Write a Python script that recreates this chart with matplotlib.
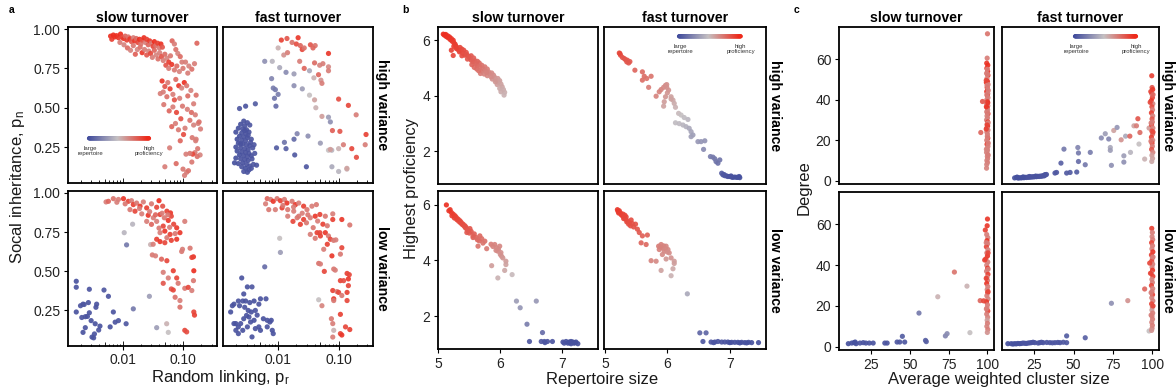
import numpy as np
import matplotlib
matplotlib.use("Agg")
import matplotlib.pyplot as plt
from matplotlib.colors import LinearSegmentedColormap
from matplotlib.ticker import FixedLocator, NullLocator

plt.rcParams['font.family'] = ['Liberation Sans', 'DejaVu Sans']

# ---------------------------------------------------------------- data
# each point: (x, y, colour score 0 = large repertoire ... 1 = high proficiency)

# a) random linking vs social inheritance
a_slow_high = [
    (0.0063,0.955,0.97),(0.0066,0.935,0.93),(0.0070,0.962,0.99),(0.0074,0.950,0.97),(0.0079,0.958,0.98),
    (0.0085,0.945,0.95),(0.0092,0.968,0.99),(0.0097,0.948,0.90),(0.0104,0.940,0.96),(0.0110,0.955,0.80),
    (0.0117,0.930,0.92),(0.0124,0.950,0.75),(0.0132,0.938,0.95),(0.0140,0.920,0.85),(0.0150,0.945,0.72),
    (0.0158,0.925,0.95),(0.0168,0.940,0.78),(0.0178,0.915,0.90),(0.0190,0.935,0.98),(0.0200,0.905,0.75),
    (0.0212,0.930,0.88),(0.0225,0.945,0.97),(0.0238,0.915,0.72),(0.0250,0.935,0.92),(0.0265,0.900,0.80),
    (0.0280,0.925,0.95),(0.0300,0.910,0.74),(0.0318,0.890,0.90),(0.0335,0.920,0.99),(0.0355,0.895,0.76),
    (0.0380,0.910,0.92),(0.0405,0.880,0.73),(0.0430,0.905,0.97),(0.0455,0.885,0.85),
    (0.0090,0.915,0.72),(0.0105,0.900,0.70),(0.0120,0.880,0.78),(0.0135,0.865,0.70),(0.0150,0.895,0.74),
    (0.0162,0.840,0.82),(0.0175,0.870,0.70),(0.0195,0.885,0.76),(0.0210,0.850,0.95),(0.0230,0.870,0.72),
    (0.0250,0.835,0.84),(0.0270,0.860,0.70),(0.0290,0.845,0.90),(0.0310,0.820,0.72),(0.0335,0.865,0.80),
    (0.0360,0.835,0.70),(0.0385,0.810,0.76),(0.0410,0.850,0.71),(0.0440,0.825,0.86),(0.0470,0.800,0.72),
    (0.0500,0.840,0.78),(0.0540,0.815,0.70),(0.0580,0.790,0.93),(0.0620,0.830,0.74),(0.0660,0.925,0.80),
    (0.0720,0.905,0.72),(0.0760,0.870,0.76),(0.0820,0.845,0.70),(0.0900,0.825,0.78),(0.0960,0.790,0.72),
    (0.0520,0.770,0.86),(0.0580,0.750,0.72),(0.0650,0.775,0.95),(0.0720,0.740,0.74),(0.0790,0.765,0.78),
    (0.0870,0.730,0.70),(0.1000,0.750,0.74),(0.1100,0.790,0.72),(0.1250,0.765,0.70),(0.1400,0.745,0.76),
    (0.1550,0.780,0.72),(0.1700,0.910,0.80),(0.1200,0.720,0.72),
    (0.0450,0.670,0.95),(0.0500,0.635,0.85),(0.0470,0.600,0.72),(0.0560,0.660,0.74),(0.0610,0.620,0.92),
    (0.0680,0.585,0.72),(0.0760,0.680,0.78),(0.0850,0.640,0.95),(0.0950,0.625,0.70),(0.1050,0.660,0.97),
    (0.1150,0.640,0.74),(0.0420,0.590,0.72),(0.0540,0.570,0.76),(0.0720,0.550,0.86),(0.0880,0.560,0.72),
    (0.1200,0.575,0.78),(0.1350,0.610,0.70),(0.1500,0.525,0.72),(0.1650,0.580,0.76),(0.0480,0.520,0.74),
    (0.0590,0.480,0.80),(0.0680,0.505,0.72),(0.0780,0.470,0.90),(0.0980,0.510,0.74),(0.1180,0.490,0.72),
    (0.1380,0.470,0.78),(0.1600,0.455,0.72),(0.1780,0.400,0.70),(0.1300,0.420,0.76),(0.0920,0.430,0.86),
    (0.0750,0.400,0.72),(0.0650,0.380,0.80),(0.0840,0.360,0.74),(0.1080,0.370,0.72),(0.1500,0.390,0.70),
    (0.1850,0.410,0.76),(0.1950,0.365,0.72),(0.1020,0.330,0.88),(0.1420,0.310,0.74),(0.1650,0.300,0.72),
    (0.0900,0.290,0.80),(0.1750,0.240,0.74),(0.1580,0.215,0.72),(0.1450,0.205,0.90),(0.1300,0.210,0.74),
    (0.1120,0.205,0.72),(0.1920,0.200,0.70),(0.1720,0.190,0.76),(0.1620,0.290,0.72),(0.0600,0.245,0.72),
    (0.0770,0.145,0.78),(0.0500,0.125,0.72),(0.1000,0.110,0.74),(0.1150,0.090,0.72),(0.1230,0.100,0.76),
    (0.1060,0.070,0.72),(0.1400,0.155,0.74),
]

a_fast_high = [
    (0.0027,0.415,0.04),(0.0031,0.405,0.05),(0.0024,0.395,0.03),(0.0028,0.385,0.04),(0.0034,0.390,0.06),
    (0.0022,0.370,0.03),(0.0026,0.365,0.05),(0.0030,0.360,0.04),(0.0020,0.345,0.03),(0.0025,0.340,0.04),
    (0.0029,0.335,0.05),(0.0033,0.345,0.04),(0.0023,0.320,0.03),(0.0027,0.315,0.05),(0.0031,0.310,0.04),
    (0.0021,0.300,0.03),(0.0025,0.295,0.04),(0.0029,0.290,0.05),(0.0036,0.300,0.06),(0.0022,0.275,0.03),
    (0.0026,0.270,0.04),(0.0030,0.265,0.05),(0.0034,0.260,0.04),(0.0040,0.265,0.06),(0.0020,0.250,0.03),
    (0.0024,0.245,0.04),(0.0028,0.240,0.05),(0.0032,0.235,0.04),(0.0038,0.245,0.05),(0.0021,0.225,0.03),
    (0.0025,0.220,0.04),(0.0029,0.215,0.04),(0.0033,0.210,0.05),(0.0023,0.200,0.03),(0.0027,0.195,0.04),
    (0.0031,0.190,0.05),(0.0036,0.195,0.04),(0.0041,0.210,0.06),(0.0020,0.180,0.03),(0.0024,0.175,0.04),
    (0.0028,0.170,0.05),(0.0032,0.165,0.04),(0.0037,0.175,0.05),(0.0019,0.150,0.03),(0.0022,0.145,0.04),
    (0.0026,0.150,0.04),(0.0030,0.140,0.05),(0.0034,0.130,0.04),(0.0039,0.140,0.06),(0.0044,0.135,0.05),
    (0.0025,0.125,0.04),(0.0029,0.115,0.03),(0.0033,0.105,0.04),(0.0027,0.095,0.05),(0.0031,0.090,0.04),
    (0.0036,0.115,0.05),(0.0024,0.270,0.04),(0.0035,0.280,0.05),(0.0028,0.355,0.04),(0.0032,0.325,0.05),
    (0.0042,0.525,0.08),(0.0023,0.495,0.06),(0.0029,0.510,0.05),(0.0094,0.245,0.08),(0.0135,0.240,0.10),
    (0.0127,0.280,0.18),(0.0188,0.200,0.07),(0.0183,0.300,0.14),(0.0206,0.335,0.25),(0.0293,0.125,0.06),
    (0.0312,0.320,0.30),(0.0499,0.275,0.35),(0.0775,0.125,0.40),(0.1000,0.095,0.45),(0.1370,0.110,0.55),
    (0.0680,0.230,0.50),(0.0770,0.230,0.45),
    (0.0060,0.795,0.30),(0.0080,0.795,0.45),(0.0078,0.685,0.25),(0.0083,0.625,0.22),(0.0090,0.615,0.20),
    (0.0087,0.560,0.18),(0.0100,0.585,0.22),(0.0092,0.510,0.15),(0.0106,0.755,0.40),(0.0135,0.725,0.28),
    (0.0183,0.715,0.35),(0.0183,0.640,0.30),(0.0251,0.620,0.35),(0.0330,0.735,0.40),(0.0330,0.580,0.50),
    (0.0400,0.550,0.60),(0.0420,0.500,0.55),(0.0530,0.445,0.62),(0.0680,0.440,0.35),(0.0730,0.410,0.30),
    (0.0390,0.690,0.55),(0.0510,0.675,0.65),
    (0.0113,0.930,0.92),(0.0140,0.940,0.85),(0.0170,0.915,0.75),(0.0214,0.945,0.95),(0.0200,0.905,0.88),
    (0.0233,0.895,0.80),(0.0250,0.870,0.90),(0.0270,0.880,0.75),(0.0342,0.900,0.85),(0.0410,0.895,0.75),
    (0.0377,0.880,0.80),(0.0100,0.880,0.55),(0.0124,0.835,0.65),(0.0143,0.850,0.72),(0.0227,0.795,0.72),
    (0.0270,0.750,0.80),(0.0400,0.785,0.78),(0.0486,0.770,0.70),(0.0550,0.780,0.72),(0.0680,0.760,0.68),
    (0.0680,0.735,0.72),(0.0680,0.845,0.95),(0.0465,0.710,0.80),(0.0530,0.655,0.72),(0.1000,0.555,0.88),
    (0.1450,0.515,0.90),(0.1950,0.455,0.72),(0.2840,0.330,0.92),(0.2750,0.265,0.72),(0.0790,0.355,0.82),
    (0.1050,0.350,0.85),(0.1200,0.265,0.72),(0.1650,0.240,0.90),(0.1970,0.185,0.88),(0.0730,0.235,0.62),
    (0.1000,0.240,0.55),(0.1370,0.115,0.60),
]

a_slow_low = [
    (0.0017,0.436,0.04),(0.0017,0.398,0.05),(0.0017,0.240,0.04),(0.0020,0.280,0.05),(0.0022,0.290,0.04),
    (0.0023,0.288,0.06),(0.0028,0.385,0.05),(0.0027,0.300,0.04),(0.0037,0.290,0.05),(0.0036,0.270,0.04),
    (0.0024,0.210,0.05),(0.0026,0.212,0.04),(0.0021,0.205,0.05),(0.0022,0.110,0.04),(0.0024,0.140,0.05),
    (0.0031,0.080,0.04),(0.0034,0.100,0.05),(0.0035,0.165,0.04),(0.0040,0.125,0.05),(0.0042,0.150,0.04),
    (0.0049,0.380,0.06),(0.0058,0.340,0.05),(0.0062,0.145,0.04),(0.0075,0.175,0.05),(0.0085,0.185,0.06),
    (0.0070,0.240,0.05),(0.0114,0.165,0.06),(0.0028,0.235,0.05),(0.0030,0.185,0.04),(0.0033,0.075,0.05),
    (0.0116,0.668,0.20),(0.0106,0.746,0.45),(0.0146,0.800,0.45),(0.0150,0.260,0.20),(0.0277,0.340,0.35),
    (0.0366,0.140,0.35),(0.0536,0.165,0.55),(0.0570,0.110,0.50),(0.0290,0.670,0.55),
    (0.0053,0.942,0.72),(0.0058,0.946,0.80),(0.0070,0.963,0.75),(0.0085,0.958,0.72),(0.0103,0.963,0.95),
    (0.0124,0.946,0.90),(0.0140,0.950,0.72),(0.0150,0.925,0.92),(0.0170,0.935,0.74),(0.0194,0.915,0.95),
    (0.0220,0.942,0.72),(0.0250,0.904,0.92),(0.0300,0.930,0.74),(0.0366,0.908,0.90),(0.0400,0.950,0.98),
    (0.0460,0.915,0.86),(0.0540,0.883,0.92),(0.0620,0.872,0.95),(0.0132,0.893,0.74),(0.0160,0.883,0.90),
    (0.0207,0.866,0.72),(0.0265,0.857,0.95),(0.0322,0.841,0.72),(0.0416,0.862,0.92),(0.0490,0.841,0.74),
    (0.0570,0.824,0.95),(0.0640,0.851,0.90),(0.0250,0.818,0.72),(0.0300,0.799,0.80),(0.0366,0.818,0.72),
    (0.0470,0.788,0.90),(0.0786,0.777,0.95),(0.1070,0.818,0.72),(0.0416,0.746,0.72),(0.0500,0.756,0.95),
    (0.0610,0.735,0.92),(0.0740,0.740,0.74),(0.0890,0.746,0.95),(0.0540,0.714,0.74),(0.0366,0.704,0.92),
    (0.0416,0.689,0.95),(0.0500,0.682,0.90),(0.0640,0.697,0.92),(0.0786,0.704,0.95),(0.0950,0.626,0.74),
    (0.0980,0.640,0.72),(0.1310,0.647,0.74),(0.0320,0.672,0.72),(0.0310,0.604,0.74),(0.0350,0.598,0.72),
    (0.0440,0.577,0.80),(0.0540,0.567,0.90),(0.0690,0.503,0.92),(0.0470,0.493,0.72),(0.1490,0.592,0.95),
    (0.1400,0.588,0.92),(0.1510,0.503,0.98),(0.0470,0.423,0.85),(0.0570,0.457,0.72),(0.0786,0.457,0.90),
    (0.0830,0.423,0.74),(0.0640,0.387,0.85),(0.0690,0.380,0.90),(0.0740,0.334,0.76),(0.0890,0.313,0.72),
    (0.1070,0.391,0.74),(0.1220,0.397,0.90),(0.1400,0.377,0.72),(0.0890,0.271,0.76),(0.1490,0.440,0.74),
    (0.1510,0.240,0.90),(0.1550,0.220,0.92),(0.1070,0.123,0.90),(0.1150,0.113,0.88),(0.0350,0.860,0.80),
    (0.0280,0.880,0.72),(0.0190,0.900,0.72),(0.0110,0.930,0.74),(0.0080,0.940,0.72),(0.0450,0.870,0.72),
    (0.0560,0.860,0.74),(0.0700,0.800,0.90),(0.0400,0.775,0.74),(0.0600,0.780,0.72),
]

a_fast_low = [
    (0.00164,0.240,0.04),(0.00175,0.280,0.05),(0.00186,0.290,0.04),(0.0022,0.310,0.05),(0.0023,0.280,0.04),
    (0.0026,0.310,0.05),(0.0029,0.310,0.04),(0.0027,0.355,0.05),(0.0031,0.400,0.04),(0.0037,0.400,0.06),
    (0.0025,0.457,0.05),(0.0040,0.310,0.04),(0.0048,0.290,0.05),(0.0051,0.324,0.04),(0.0063,0.324,0.05),
    (0.00186,0.166,0.04),(0.0020,0.123,0.05),(0.0022,0.145,0.04),(0.0024,0.166,0.05),(0.0027,0.197,0.04),
    (0.0030,0.218,0.05),(0.0033,0.208,0.04),(0.0035,0.176,0.05),(0.0040,0.187,0.04),(0.0032,0.250,0.05),
    (0.0036,0.240,0.04),(0.0042,0.250,0.05),(0.0020,0.166,0.04),(0.0022,0.102,0.05),(0.0026,0.123,0.04),
    (0.0031,0.145,0.05),(0.0037,0.081,0.04),(0.0042,0.134,0.05),(0.0057,0.197,0.04),(0.0066,0.187,0.05),
    (0.0073,0.176,0.04),(0.0066,0.145,0.05),(0.0080,0.123,0.04),(0.0083,0.102,0.05),(0.0077,0.187,0.04),
    (0.0048,0.145,0.05),(0.0051,0.123,0.04),(0.0028,0.270,0.05),(0.0034,0.300,0.04),(0.0045,0.220,0.05),
    (0.0060,0.528,0.15),(0.0109,0.620,0.35),(0.0106,0.710,0.50),(0.0468,0.318,0.50),(0.0830,0.123,0.55),
    (0.0066,0.963,0.80),(0.0075,0.958,0.72),(0.0083,0.946,0.95),(0.0096,0.963,0.74),(0.0109,0.950,0.92),
    (0.0127,0.958,0.72),(0.0140,0.935,0.95),(0.0170,0.946,0.74),(0.0193,0.925,0.95),(0.0219,0.935,0.72),
    (0.0264,0.915,0.92),(0.0300,0.893,0.74),(0.0362,0.915,0.72),(0.0429,0.925,0.74),(0.0062,0.930,0.72),
    (0.0070,0.893,0.74),(0.0090,0.893,0.72),(0.0116,0.904,0.92),(0.0144,0.893,0.74),(0.0181,0.883,0.72),
    (0.0219,0.851,0.74),(0.0264,0.830,0.92),(0.0144,0.851,0.72),(0.0176,0.818,0.90),(0.0206,0.841,0.74),
    (0.0233,0.799,0.92),(0.0294,0.809,0.74),(0.0340,0.841,0.72),(0.0410,0.851,0.95),(0.0490,0.862,0.92),
    (0.0603,0.851,0.74),(0.0800,0.866,0.72),(0.0800,0.830,0.92),(0.1130,0.830,0.95),(0.1530,0.795,0.74),
    (0.0380,0.778,0.74),(0.0440,0.746,0.92),(0.0490,0.746,0.90),(0.0340,0.735,0.72),(0.0410,0.710,0.74),
    (0.0500,0.725,0.92),(0.0603,0.746,0.95),(0.0680,0.725,0.74),(0.0730,0.704,0.90),(0.0826,0.697,0.74),
    (0.0650,0.672,0.92),(0.0567,0.640,0.72),(0.0775,0.598,0.95),(0.1070,0.609,0.74),(0.1130,0.650,0.90),
    (0.0468,0.550,0.76),(0.0500,0.546,0.72),(0.0580,0.499,0.90),(0.0830,0.514,0.74),(0.0880,0.507,0.72),
    (0.1380,0.486,0.92),(0.1500,0.478,0.90),(0.1450,0.451,0.95),(0.1070,0.440,0.92),(0.1210,0.440,0.88),
    (0.1450,0.408,0.90),(0.0800,0.377,0.92),(0.0940,0.370,0.74),(0.1000,0.365,0.90),(0.0830,0.324,0.95),
    (0.1130,0.345,0.74),(0.1380,0.365,0.92),(0.1380,0.313,0.90),(0.0830,0.313,0.74),(0.0530,0.280,0.70),
    (0.0760,0.197,0.74),(0.0800,0.166,0.72),(0.1070,0.225,0.92),(0.1300,0.145,0.90),(0.1530,0.128,0.92),
    (0.1070,0.102,0.90),(0.1130,0.093,0.95),(0.0800,0.080,0.72),(0.0250,0.870,0.72),(0.0310,0.860,0.74),
    (0.0180,0.910,0.72),(0.0120,0.920,0.74),(0.0550,0.800,0.92),(0.0450,0.820,0.72),(0.0650,0.790,0.74),
    (0.0900,0.700,0.72),
]

# b) repertoire size vs highest proficiency
b_slow_high = [
    (5.08,6.22,1.00),(5.10,6.18,0.99),(5.12,6.21,0.99),(5.13,6.13,0.98),(5.15,6.16,0.98),(5.16,6.09,0.97),
    (5.18,6.12,0.97),(5.19,6.03,0.96),(5.21,6.06,0.96),(5.22,5.97,0.95),(5.24,6.00,0.95),(5.25,5.91,0.94),
    (5.27,5.86,0.94),(5.28,5.80,0.93),(5.25,5.78,0.93),(5.30,5.74,0.92),(5.21,5.64,0.92),(5.24,5.45,0.90),
    (5.32,5.66,0.91),(5.34,5.58,0.90),(5.36,5.62,0.90),(5.40,5.52,0.88),(5.43,5.46,0.87),(5.38,5.44,0.88),
    (5.46,5.48,0.86),(5.49,5.42,0.85),(5.51,5.36,0.84),(5.53,5.28,0.83),(5.47,5.32,0.85),(5.56,5.22,0.82),
    (5.59,5.26,0.81),(5.61,5.16,0.80),(5.63,5.10,0.79),(5.66,5.18,0.78),(5.58,5.02,0.79),(5.62,4.96,0.78),
    (5.67,5.04,0.77),(5.70,5.10,0.76),(5.72,4.98,0.75),(5.75,5.04,0.74),(5.70,4.88,0.74),(5.68,4.80,0.73),
    (5.76,4.90,0.72),(5.79,4.96,0.72),(5.81,4.86,0.70),(5.83,4.78,0.69),(5.79,4.72,0.69),(5.86,4.82,0.68),
    (5.89,4.74,0.67),(5.91,4.66,0.65),(5.87,4.60,0.65),(5.93,4.56,0.63),(5.96,4.62,0.63),(5.97,4.48,0.62),
    (5.99,4.54,0.61),(5.95,4.40,0.61),(6.01,4.42,0.60),(6.03,4.32,0.59),(5.99,4.26,0.58),(6.05,4.22,0.57),
    (6.07,4.12,0.56),(6.01,4.14,0.57),(6.06,4.02,0.55),(5.63,5.24,0.80),(5.53,5.44,0.84),(5.45,5.56,0.86),
    (5.38,5.68,0.89),(5.57,5.36,0.82),(5.35,5.74,0.90),(5.85,4.68,0.67),(5.74,4.78,0.71),(5.41,5.64,0.88),
    (5.29,5.70,0.92),(5.92,4.50,0.64),(5.78,4.84,0.71),(5.65,4.90,0.76),(5.54,5.12,0.81),
]

b_fast_high = [
    (5.23,5.54,0.88),(5.25,5.46,0.88),(5.24,5.52,0.90),(5.28,5.38,0.86),(5.31,5.34,0.86),(5.33,5.30,0.85),
    (5.36,5.28,0.85),(5.38,5.18,0.84),(5.40,5.23,0.84),(5.35,5.22,0.85),(5.48,4.92,0.80),(5.60,4.86,0.78),
    (5.63,4.70,0.77),(5.60,4.56,0.77),(5.67,4.62,0.76),(5.74,4.70,0.75),(5.70,4.30,0.72),(5.82,3.98,0.70),
    (5.87,4.14,0.70),(5.90,4.22,0.70),(5.94,4.30,0.68),(5.97,4.37,0.67),(5.99,4.30,0.66),(6.02,4.20,0.65),
    (5.97,3.96,0.64),(5.95,3.78,0.62),(5.94,3.62,0.60),(6.06,3.96,0.60),(6.09,3.84,0.58),(6.11,3.72,0.57),
    (6.13,3.58,0.55),(6.18,3.36,0.52),(6.22,3.30,0.50),(6.27,3.21,0.48),(6.33,3.14,0.46),(6.13,3.02,0.48),
    (6.19,2.99,0.47),(6.25,2.94,0.45),(6.30,2.88,0.43),(6.35,2.82,0.40),(6.38,2.70,0.38),(6.41,2.58,0.36),
    (6.38,2.52,0.36),(6.49,2.34,0.33),(6.54,2.34,0.32),(6.60,2.37,0.31),(6.58,2.06,0.28),(6.69,1.80,0.22),
    (6.73,1.78,0.21),(6.78,1.62,0.18),(6.81,1.56,0.17),(6.87,1.20,0.08),(6.89,1.14,0.07),(6.92,1.11,0.06),
    (6.95,1.10,0.05),(6.97,1.08,0.05),(7.00,1.08,0.04),(7.03,1.06,0.04),(7.05,1.05,0.03),(7.08,1.06,0.03),
    (7.11,1.05,0.03),(7.13,1.05,0.03),(7.15,1.08,0.03),(7.16,1.04,0.03),(6.91,1.15,0.06),(7.02,1.10,0.04),
    (6.84,1.68,0.18),(6.76,1.72,0.20),(6.06,3.88,0.60),(5.99,4.40,0.66),(6.00,4.10,0.64),
]

b_slow_low = [
    (5.13,5.99,0.98),(5.19,5.82,0.96),(5.21,5.72,0.95),(5.17,5.78,0.96),(5.24,5.66,0.94),(5.22,5.60,0.94),
    (5.27,5.60,0.93),(5.26,5.52,0.93),(5.29,5.54,0.92),(5.30,5.46,0.92),(5.32,5.48,0.91),(5.33,5.40,0.90),
    (5.35,5.42,0.90),(5.36,5.34,0.89),(5.37,5.36,0.89),(5.39,5.28,0.88),(5.40,5.30,0.88),(5.42,5.22,0.87),
    (5.43,5.24,0.87),(5.44,5.16,0.86),(5.45,5.18,0.86),(5.47,5.10,0.85),(5.51,5.14,0.85),(5.48,5.06,0.84),
    (5.50,4.98,0.83),(5.53,5.04,0.84),(5.56,4.82,0.81),(5.56,4.88,0.81),(5.61,4.82,0.80),(5.67,4.88,0.79),
    (5.63,4.74,0.78),(5.70,4.78,0.77),(5.75,4.69,0.76),(5.64,4.51,0.75),(5.72,4.62,0.75),(5.78,4.42,0.73),
    (5.85,4.58,0.72),(5.91,4.57,0.71),(5.88,4.50,0.70),(5.94,4.45,0.69),(5.96,4.33,0.68),(6.00,4.21,0.66),
    (6.02,4.15,0.65),(5.99,4.51,0.69),(5.97,4.40,0.68),(5.93,4.36,0.68),(6.04,4.09,0.64),(6.01,4.28,0.66),
    (6.09,3.97,0.62),(6.09,3.85,0.60),(5.86,3.81,0.62),(6.07,3.64,0.58),(5.96,3.37,0.55),(6.19,3.49,0.52),
    (6.26,2.54,0.35),(6.32,2.30,0.32),(6.43,1.71,0.22),(6.58,2.54,0.33),(6.47,1.09,0.06),(6.68,1.41,0.15),
    (6.66,1.09,0.06),(6.71,1.09,0.06),(6.76,1.09,0.05),(6.84,1.09,0.05),(7.01,1.07,0.04),(7.03,1.03,0.04),
    (7.06,1.09,0.04),(7.09,1.03,0.03),(7.11,1.07,0.03),(7.14,1.01,0.03),(7.17,1.07,0.03),(7.19,1.03,0.03),
    (7.22,1.07,0.03),(7.25,1.01,0.03),(7.14,1.09,0.03),(7.12,1.05,0.03),(7.20,1.05,0.03),(6.72,1.05,0.05),
    (5.58,4.95,0.82),(5.46,5.00,0.84),(5.66,4.70,0.78),
]

b_fast_low = [
    (5.20,5.82,0.95),(5.21,5.76,0.95),(5.23,5.78,0.94),(5.22,5.70,0.94),(5.25,5.70,0.93),(5.26,5.64,0.93),
    (5.28,5.60,0.92),(5.29,5.66,0.92),(5.31,5.54,0.91),(5.30,5.50,0.91),(5.33,5.48,0.90),(5.34,5.56,0.90),
    (5.36,5.42,0.89),(5.35,5.38,0.89),(5.39,5.36,0.88),(5.41,5.24,0.87),(5.38,5.30,0.88),(5.44,5.32,0.87),
    (5.49,5.30,0.86),(5.52,5.12,0.85),(5.55,5.00,0.84),(5.60,4.88,0.82),(5.68,4.91,0.81),(5.58,4.63,0.80),
    (5.66,4.57,0.79),(5.86,4.51,0.72),(5.87,4.39,0.71),(5.90,4.57,0.71),(5.92,4.45,0.70),(5.95,4.33,0.69),
    (5.98,4.51,0.69),(6.01,4.39,0.68),(6.03,4.27,0.67),(6.06,4.09,0.65),(5.92,4.21,0.68),(5.89,4.48,0.71),
    (5.94,4.52,0.70),(5.97,4.42,0.69),(6.00,4.30,0.67),(5.74,3.99,0.70),(5.82,3.97,0.68),(5.98,4.05,0.64),
    (6.11,3.97,0.62),(6.11,3.89,0.61),(6.09,3.70,0.58),(5.90,3.64,0.60),(6.06,3.45,0.55),(6.32,2.80,0.40),
    (6.52,1.40,0.12),(6.62,1.40,0.12),(6.57,1.09,0.06),(6.70,1.07,0.05),(6.76,1.07,0.05),(6.81,1.09,0.05),
    (6.87,1.07,0.04),(6.92,1.07,0.04),(6.97,1.07,0.04),(7.03,1.06,0.03),(7.08,1.06,0.03),(7.13,1.06,0.03),
    (7.19,1.06,0.03),(7.24,1.05,0.03),(7.30,1.06,0.03),(7.35,1.05,0.03),(7.46,1.05,0.03),(7.00,1.05,0.03),
    (7.16,1.04,0.03),(7.27,1.04,0.03),(6.74,1.05,0.05),(5.46,5.20,0.86),(5.42,5.45,0.88),(5.32,5.62,0.91),
]

# c) average weighted cluster size vs degree
c_slow_high = [
    (100.0,72.5,0.75),(99.8,60.5,0.72),(99.5,58.0,0.95),(100.2,57.0,0.98),(99.6,55.5,0.96),(100.1,54.0,0.99),
    (99.4,53.0,0.72),(100.3,52.0,0.94),(99.7,50.5,0.70),(100.0,49.0,0.96),(99.3,48.5,0.98),(100.4,47.5,0.72),
    (99.8,46.0,0.93),(100.1,45.0,0.70),(99.5,44.0,0.95),(100.2,43.0,0.72),(99.9,42.0,0.97),(100.3,41.0,0.70),
    (99.6,40.0,0.72),(100.0,39.0,0.92),(99.4,38.0,0.70),(100.2,37.0,0.72),(99.8,36.0,0.95),(100.1,35.0,0.70),
    (99.5,34.0,0.72),(100.3,33.0,0.97),(99.7,32.0,0.70),(100.0,31.0,0.72),(99.4,30.0,0.70),(100.2,29.0,0.93),
    (99.8,28.0,0.72),(100.1,27.0,0.98),(99.5,26.0,0.70),(100.3,25.0,0.72),(99.6,24.0,0.70),(100.0,23.0,0.72),
    (99.9,22.0,0.70),(100.2,21.0,0.94),(99.5,20.0,0.72),(100.1,19.0,0.70),(99.7,18.0,0.92),(100.3,17.0,0.72),
    (99.8,16.0,0.70),(100.0,15.0,0.72),(99.4,14.0,0.70),(100.2,13.0,0.72),(99.9,12.0,0.70),(100.1,11.0,0.72),
    (99.6,10.0,0.70),(100.0,9.0,0.72),(99.5,8.0,0.70),(99.4,6.2,0.70),(95.7,23.8,0.80),(96.8,39.1,0.85),
    (99.2,49.5,0.90),(100.5,44.5,0.72),(99.3,36.5,0.95),(100.4,28.5,0.70),(99.2,25.5,0.92),(100.5,18.5,0.72),
    (99.3,15.5,0.70),(100.4,12.5,0.72),(99.7,47.0,0.72),(100.0,52.5,0.72),(99.8,27.5,0.92),(100.1,33.5,0.72),
    (99.6,42.5,0.72),(100.2,38.5,0.95),(99.9,55.0,0.72),(100.0,21.5,0.72),
]

c_fast_high = [
    (12.6,1.4,0.03),(13.8,1.6,0.03),(14.9,1.3,0.03),(15.8,1.5,0.03),(16.8,1.4,0.03),(17.6,1.6,0.03),
    (18.5,1.5,0.03),(19.3,1.7,0.03),(20.1,1.6,0.04),(20.9,1.8,0.04),(21.7,1.7,0.04),(22.5,1.9,0.04),
    (23.3,1.8,0.04),(24.1,2.0,0.04),(24.9,1.9,0.04),(25.7,2.1,0.04),(26.5,2.0,0.04),(27.3,2.2,0.05),
    (28.1,2.1,0.05),(28.9,2.3,0.05),(29.7,2.2,0.05),(30.5,2.5,0.05),(31.3,2.4,0.05),(32.0,2.8,0.05),
    (32.8,3.1,0.05),(31.8,3.0,0.05),(14.2,1.8,0.03),(18.0,1.9,0.03),(22.0,2.1,0.04),(26.0,2.3,0.04),
    (38.2,3.8,0.06),(39.2,4.1,0.06),(45.6,3.8,0.07),(47.8,4.1,0.07),(52.0,4.3,0.08),(42.0,8.7,0.10),
    (43.9,15.6,0.20),(53.1,9.5,0.15),(53.1,13.7,0.20),(52.7,16.4,0.25),(57.4,7.9,0.20),(60.6,14.0,0.22),
    (67.6,21.1,0.28),(70.1,23.2,0.35),(72.3,20.6,0.25),(73.3,16.4,0.40),(73.3,15.0,0.35),(74.0,7.6,0.30),
    (75.5,24.8,0.60),(77.6,26.3,0.32),(80.2,20.2,0.65),(81.9,12.3,0.35),(81.9,9.2,0.30),(83.0,22.0,0.40),
    (85.7,22.0,0.80),(86.1,14.0,0.45),(88.3,27.1,0.60),(89.9,27.1,0.72),(90.8,30.6,0.85),(91.5,18.1,0.50),
    (92.1,23.8,0.78),(95.1,10.7,0.55),(97.9,26.0,0.62),
    (99.6,51.8,0.92),(99.8,46.0,0.85),(100.2,45.0,0.95),(99.5,43.0,0.72),(100.0,41.0,0.90),(99.3,39.5,0.95),
    (100.3,38.0,0.70),(99.7,36.5,0.88),(100.1,35.0,0.72),(99.4,33.5,0.92),(100.2,32.0,0.70),(99.8,30.5,0.85),
    (100.0,29.0,0.72),(99.5,27.5,0.90),(100.3,26.0,0.70),(99.7,24.5,0.88),(100.1,23.0,0.72),(99.4,21.5,0.92),
    (100.2,20.0,0.70),(99.8,18.5,0.90),(100.0,17.0,0.72),(99.5,15.5,0.85),(100.3,14.0,0.70),(99.7,12.5,0.62),
    (100.1,11.0,0.60),(99.6,9.5,0.58),(98.6,38.7,0.90),(99.0,44.0,0.92),(99.2,28.5,0.72),(100.4,42.5,0.80),
    (100.4,24.0,0.90),(99.1,19.5,0.75),
]

c_slow_low = [
    (10.4,1.5,0.03),(12.6,1.8,0.03),(14.1,2.0,0.03),(15.4,1.5,0.03),(14.8,2.3,0.03),(17.9,1.8,0.04),
    (20.0,2.0,0.04),(21.7,1.8,0.04),(23.9,1.8,0.04),(26.4,1.8,0.04),(33.9,1.8,0.05),(35.4,1.8,0.05),
    (41.8,2.3,0.06),(43.5,2.3,0.06),(45.2,5.1,0.08),(46.7,2.3,0.06),(55.9,16.5,0.20),(60.1,3.1,0.10),
    (60.6,2.5,0.10),(68.0,24.5,0.55),(72.9,5.3,0.25),(74.0,6.4,0.28),(78.7,36.6,0.75),(86.8,29.7,0.55),
    (88.7,6.9,0.50),(95.3,22.6,0.80),
    (100.0,62.6,0.95),(99.8,59.3,0.95),(98.6,57.2,0.92),(99.5,55.0,0.72),(100.2,53.5,0.70),(99.7,52.0,0.95),
    (100.1,50.5,0.72),(99.3,49.0,0.90),(100.3,47.5,0.70),(99.6,46.0,0.72),(100.0,44.5,0.95),(98.9,43.0,0.92),
    (100.2,41.5,0.72),(99.5,40.0,0.70),(100.1,38.5,0.95),(99.4,37.0,0.72),(100.3,35.5,0.92),(99.7,34.0,0.70),
    (100.0,32.5,0.72),(99.5,31.0,0.95),(100.2,29.5,0.72),(99.8,28.0,0.70),(100.1,26.5,0.92),(99.6,25.0,0.72),
    (100.3,23.5,0.70),(99.4,22.0,0.95),(100.0,20.5,0.72),(99.7,19.0,0.70),(100.2,17.5,0.92),(99.5,16.0,0.72),
    (100.1,14.5,0.70),(99.8,13.0,0.62),(100.0,11.5,0.72),(99.6,10.0,0.70),(100.2,8.5,0.72),(99.9,7.0,0.65),
    (97.5,22.5,0.90),(98.2,42.5,0.92),(100.4,38.0,0.72),(99.2,33.5,0.92),(100.4,27.0,0.90),(99.3,18.5,0.72),
    (100.4,46.0,0.90),(99.2,51.0,0.72),
]

c_fast_low = [
    (8.3,1.5,0.03),(10.4,1.5,0.03),(12.6,1.5,0.03),(14.7,1.6,0.03),(16.8,1.6,0.03),(19.0,1.7,0.04),
    (21.1,1.8,0.04),(23.2,2.0,0.04),(25.4,2.0,0.04),(28.6,2.0,0.04),(30.7,2.0,0.05),(35.0,2.0,0.05),
    (38.2,2.0,0.05),(41.4,2.0,0.05),(45.6,2.0,0.06),(45.6,5.3,0.08),(57.4,4.4,0.10),(11.5,1.3,0.03),
    (13.6,1.4,0.03),(15.8,1.5,0.03),(17.9,1.8,0.04),(20.0,1.6,0.04),(22.2,1.9,0.04),(24.3,2.2,0.04),
    (27.5,1.8,0.04),(29.6,2.2,0.05),(33.0,2.1,0.05),(36.6,1.9,0.05),(40.0,2.1,0.05),(43.5,2.2,0.06),
    (74.0,21.3,0.30),(84.4,22.6,0.65),(95.1,28.3,0.80),(97.9,7.7,0.50),
    (99.6,58.0,0.92),(100.0,56.0,0.72),(99.8,54.0,0.70),(100.2,52.5,0.72),(99.5,51.0,0.90),(100.1,49.5,0.72),
    (99.7,48.0,0.70),(100.3,46.5,0.95),(99.4,45.0,0.92),(100.0,43.5,0.72),(99.6,42.0,0.90),(100.2,40.5,0.72),
    (99.8,39.0,0.70),(100.1,37.5,0.95),(99.5,36.0,0.72),(100.3,34.5,0.92),(99.7,33.0,0.70),(100.0,31.5,0.72),
    (99.4,30.0,0.90),(100.2,28.5,0.70),(99.8,27.0,0.72),(100.1,25.5,0.92),(99.6,24.0,0.70),(100.3,22.5,0.72),
    (99.5,21.0,0.90),(100.0,19.5,0.72),(99.7,18.0,0.62),(100.2,16.5,0.72),(99.8,15.0,0.70),(100.1,13.5,0.72),
    (99.6,12.0,0.70),(100.0,10.5,0.72),(99.8,9.0,0.70),(99.5,8.0,0.65),(98.3,41.0,0.90),(98.8,36.0,0.92),
    (100.4,44.0,0.72),(99.2,26.5,0.72),(100.4,20.0,0.90),(99.2,15.5,0.72),
]

col_titles = ["slow turnover", "fast turnover"]
row_titles = ["high variance", "low variance"]

a_xticks = [0.01, 0.1]
a_xticklabels = ["0.01", "0.10"]
a_yticks = [0.25, 0.50, 0.75, 1.00]
a_yticklabels = ["0.25", "0.50", "0.75", "1.00"]
b_xticks = [5, 6, 7]
b_yticks = [2, 4, 6]
c_xticks = [25, 50, 75, 100]
c_yticks = [0, 20, 40, 60]

# ---------------------------------------------------------------- figure
W, H = 1176, 392
fig = plt.figure(figsize=(W / 100, H / 100), dpi=100)
cmap = LinearSegmentedColormap.from_list("rep_prof", ["#3F4A9C", "#C6C1C3", "#EE2A1B"])
TXT = "#1a1a1a"


def px_axes(x0, y0, x1, y1):
    return fig.add_axes([x0 / W, 1 - y1 / H, (x1 - x0) / W, (y1 - y0) / H])


def style(ax, left, bottom):
    for s in ax.spines.values():
        s.set_linewidth(1.3)
        s.set_color("black")
    ax.tick_params(axis="both", direction="out", length=3, width=0.8,
                   labelsize=10, labelcolor="#222222", pad=2.5)
    if not left:
        ax.tick_params(axis="y", left=False, labelleft=False)
    if not bottom:
        ax.tick_params(axis="x", bottom=False, labelbottom=False)


def draw_points(ax, pts):
    x, y, c = zip(*pts)
    ax.scatter(x, y, c=c, cmap=cmap, vmin=0, vmax=1, s=14,
               linewidths=0, alpha=0.92, zorder=3)


def legend_bar(x0, x1, yb):
    lax = px_axes(x0 - 3, yb - 3, x1 + 3, yb + 3)
    lax.set_axis_off()
    lax.set_xlim(-3 / (x1 - x0), 1 + 3 / (x1 - x0))
    lax.set_ylim(-1, 1)
    t = np.linspace(0, 1, 160)
    lax.scatter(t, np.zeros_like(t), c=t, cmap=cmap, vmin=0, vmax=1,
                s=9, linewidths=0, clip_on=False)
    fig.text((x0 + 1) / W, 1 - (yb + 7.5) / H, "large\nrepertoire", ha="center", va="top",
             fontsize=4.3, color="#333333", linespacing=1.05)
    fig.text(x1 / W, 1 - (yb + 7.5) / H, "high\nproficiency", ha="center", va="top",
             fontsize=4.3, color="#333333", linespacing=1.05)


def log_ticks(ax, lo, hi, hpx):
    trans = ax.get_xaxis_transform()
    for k in (-3, -2, -1):
        for m in range(1, 10):
            v = m * 10.0 ** k
            if lo < v < hi:
                h = 5.0 if m == 1 else (3.5 if m == 5 else 2.2)
                ax.plot([v, v], [0, h / hpx], transform=trans, color="black",
                        lw=0.6, solid_capstyle="butt", zorder=4, clip_on=False)


# ---- panel a
a_cols = [(68, 217), (223.3, 372.7)]
a_rows = [(26.7, 182.5), (190.5, 345.7)]
a_data = [[a_slow_high, a_fast_high], [a_slow_low, a_fast_low]]
a_xlim = (0.00124, 0.366)
for r, (y0, y1) in enumerate(a_rows):
    for ci, (x0, x1) in enumerate(a_cols):
        ax = px_axes(x0, y0, x1, y1)
        ax.set_xscale("log")
        ax.set_xlim(*a_xlim)
        ax.set_ylim(0.025, 1.015)
        draw_points(ax, a_data[r][ci])
        ax.xaxis.set_major_locator(FixedLocator(a_xticks))
        ax.set_xticklabels(a_xticklabels)
        ax.xaxis.set_minor_locator(NullLocator())
        ax.set_yticks(a_yticks)
        ax.set_yticklabels(a_yticklabels)
        style(ax, ci == 0, r == 1)
        log_ticks(ax, *a_xlim, y1 - y0)

# ---- panel b
b_cols = [(437.7, 598.3), (604.3, 766)]
b_rows = [(26.7, 184), (191, 349.3)]
b_data = [[b_slow_high, b_fast_high], [b_slow_low, b_fast_low]]
for r, (y0, y1) in enumerate(b_rows):
    for ci, (x0, x1) in enumerate(b_cols):
        ax = px_axes(x0, y0, x1, y1)
        ax.set_xlim(4.99, 7.58)
        ax.set_ylim(0.81, 6.49)
        draw_points(ax, b_data[r][ci])
        ax.set_xticks(b_xticks)
        ax.set_yticks(b_yticks)
        style(ax, ci == 0, r == 1)

# ---- panel c
c_cols = [(839, 994), (1001.7, 1159)]
c_rows = [(26.7, 184), (191.7, 350)]
c_data = [[c_slow_high, c_fast_high], [c_slow_low, c_fast_low]]
for r, (y0, y1) in enumerate(c_rows):
    for ci, (x0, x1) in enumerate(c_cols):
        ax = px_axes(x0, y0, x1, y1)
        ax.set_xlim(4.4, 104.2)
        ax.set_ylim(-1.6, 76)
        draw_points(ax, c_data[r][ci])
        ax.set_xticks(c_xticks)
        ax.set_yticks(c_yticks)
        style(ax, ci == 0, r == 1)

# ---- legends
legend_bar(89, 149, 138.3)
legend_bar(679, 740.7, 36.3)
legend_bar(1075, 1136, 36.3)

# ---- strip titles, axis titles, panel letters
for cols, rows in ((a_cols, a_rows), (b_cols, b_rows), (c_cols, c_rows)):
    for (x0, x1), t in zip(cols, col_titles):
        fig.text((x0 + x1) / 2 / W, 1 - 21.7 / H, t, ha="center", va="baseline",
                 fontsize=10.2, fontweight="bold", color="black")
    xr = cols[1][1] + 9
    for (y0, y1), t in zip(rows, row_titles):
        fig.text(xr / W, 1 - (y0 + y1) / 2 / H, t, ha="center", va="center",
                 rotation=270, fontsize=10.2, fontweight="bold", color="black")

fig.text(18 / W, 1 - 187 / H, r"Socal inheritance, $\mathregular{p_n}$", rotation=90,
         ha="center", va="center", fontsize=12, color=TXT)
fig.text(411 / W, 1 - 188 / H, "Highest proficiency", rotation=90,
         ha="center", va="center", fontsize=12, color=TXT)
fig.text(804 / W, 1 - 188 / H, "Degree", rotation=90,
         ha="center", va="center", fontsize=12, color=TXT)

fig.text(220.3 / W, 1 - 382 / H, r"Random linking, $\mathregular{p_r}$", ha="center",
         va="baseline", fontsize=12, color=TXT)
fig.text(601.8 / W, 1 - 384 / H, "Repertoire size", ha="center", va="baseline",
         fontsize=12, color=TXT)
fig.text(999 / W, 1 - 384 / H, "Average weighted cluster size", ha="center",
         va="baseline", fontsize=12, color=TXT)

for lx, lab in ((9, "a"), (402, "b"), (794, "c")):
    fig.text(lx / W, 1 - 13 / H, lab, ha="left", va="baseline", fontsize=7.5,
             fontweight="bold", color="black")

fig.savefig("out.png", dpi=100)
